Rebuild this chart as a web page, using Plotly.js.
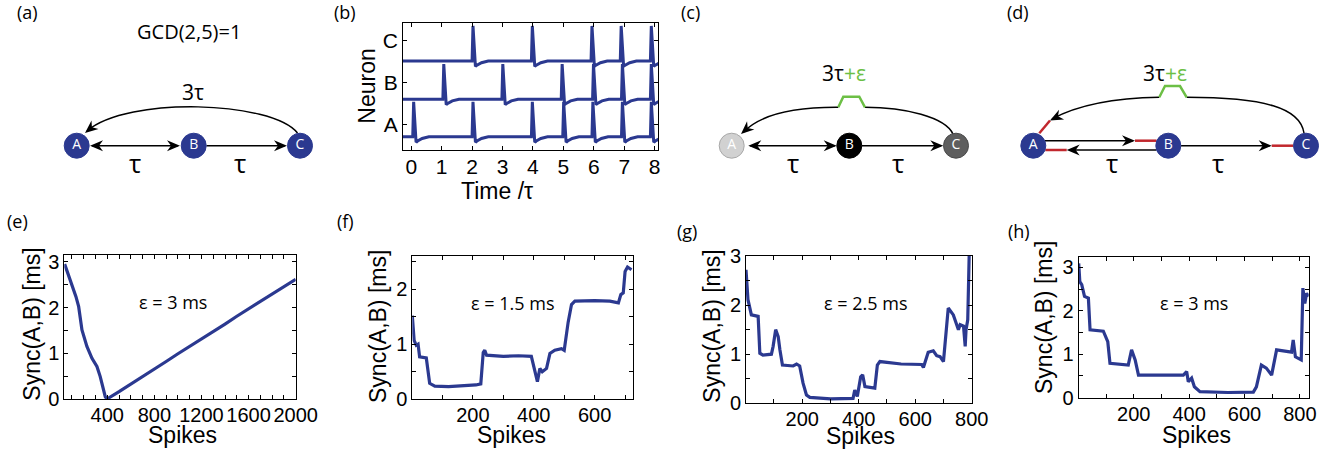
<!DOCTYPE html>
<html><head><meta charset="utf-8">
<script src="https://cdn.plot.ly/plotly-3.0.1.min.js"></script>
<style>html,body{margin:0;padding:0;background:#fff;}#chart{width:1336px;height:452px;}</style>
</head><body><div id="chart"></div>
<script>
const W = 1336, H = 452;
const NAVY = '#2b3990', GREEN = '#6cbf45', RED = '#c1272d';

// ---------- panel (b): spike raster ----------
const neuronLabels = ['A', 'B', 'C'];
const neuronTicks = [1, 2, 3];
const spikesA = [0.08, 2.03, 3.98, 5.01, 5.97, 6.94, 7.89];
const spikesB = [1.07, 3.01, 4.96, 5.99, 6.94, 7.89];
const spikesC = [2.03, 3.98, 5.94, 6.90, 7.89];
const baseLevels = [0.705, 1.606, 2.52];
// spike waveform (offset in tau, offset in level)
const spikeDt = [-0.03, 0.0, 0.08, 0.13, 0.28, 0.5];
const spikeDv = [0.0, 0.84, -0.13, -0.10, -0.04, 0.0];

// ---------- panels (e)-(h): Sync(A,B) ----------
const eX = [38, 86, 134, 157, 185, 227, 270, 312, 340, 383, 397, 500, 600, 700, 800, 900, 1000, 1100, 1200, 1300, 1400, 1500, 1600, 1700, 1800, 1900, 2000];
const eY = [2.95, 2.61, 2.24, 2.02, 1.51, 1.15, 0.89, 0.71, 0.49, 0.05, 0.0, 0.16, 0.33, 0.49, 0.66, 0.82, 0.99, 1.15, 1.32, 1.49, 1.64, 1.81, 1.97, 2.14, 2.30, 2.47, 2.62];

const fX = [1, 7, 14, 20, 25, 47, 58, 75, 120, 170, 210, 226, 234, 239, 245, 300, 350, 392, 403, 412, 420, 428, 442, 453, 469, 491, 500, 508, 513, 524, 535, 600, 650, 678, 686, 694, 700, 708, 721];
const fY = [1.52, 1.07, 0.98, 1.0, 0.77, 0.75, 0.29, 0.24, 0.23, 0.24, 0.26, 0.28, 0.85, 0.89, 0.80, 0.78, 0.79, 0.78, 0.53, 0.32, 0.56, 0.50, 0.56, 0.83, 0.89, 0.92, 0.89, 1.25, 1.40, 1.72, 1.78, 1.79, 1.78, 1.75, 1.90, 1.93, 2.32, 2.40, 2.35];

const gX = [1, 8, 20, 44, 50, 61, 91, 97, 106, 115, 121, 130, 168, 180, 191, 203, 215, 227, 300, 380, 386, 395, 407, 414, 422, 457, 466, 475, 550, 623, 629, 646, 664, 676, 688, 700, 717, 735, 753, 759, 771, 777, 780, 786, 791, 795];
const gY = [2.72, 2.11, 1.80, 1.77, 1.02, 0.98, 1.0, 1.16, 1.5, 1.36, 1.09, 0.78, 0.76, 0.80, 0.76, 0.41, 0.17, 0.12, 0.09, 0.10, 0.27, 0.14, 0.54, 0.58, 0.34, 0.31, 0.78, 0.85, 0.80, 0.79, 0.73, 1.04, 1.07, 0.97, 0.95, 0.85, 1.94, 1.80, 1.50, 1.60, 1.57, 1.16, 1.50, 1.70, 3.0, 3.5];

const hX = [1, 5, 12, 22, 36, 42, 90, 96, 106, 114, 180, 192, 205, 217, 300, 379, 391, 397, 409, 419, 439, 540, 632, 643, 661, 679, 698, 716, 770, 776, 784, 799, 805, 811, 818, 824, 832];
const hY = [3.09, 2.67, 2.60, 2.33, 2.29, 1.56, 1.53, 1.44, 1.29, 0.79, 0.75, 1.10, 0.87, 0.52, 0.52, 0.52, 0.60, 0.37, 0.45, 0.25, 0.14, 0.12, 0.13, 0.25, 0.75, 0.68, 0.52, 1.10, 1.05, 1.33, 0.94, 0.90, 0.87, 2.52, 2.17, 2.40, 2.33];

const epsLabels = ['ε = 3 ms', 'ε = 1.5 ms', 'ε = 2.5 ms', 'ε = 3 ms'];

// ---------- diagram nodes (panel-pixel layout) ----------
const nodeX = [76.7, 193.7, 300, 731.7, 849.3, 956, 1033.3, 1168.3, 1306];
const nodeY = [145.7, 145.7, 145.7, 145.7, 145.7, 145.7, 145.7, 145.7, 145.7];
const nodeText = ['A', 'B', 'C', 'A', 'B', 'C', 'A', 'B', 'C'];
const nodeFill = [NAVY, NAVY, NAVY, '#d1d1d1', '#000000', '#5e5e5e', NAVY, NAVY, NAVY];
const nodeEdge = [NAVY, NAVY, NAVY, '#a8a8a8', '#000000', '#4a4a4a', NAVY, NAVY, NAVY];

// ---------- helpers ----------
const px = v => v / W, py = v => 1 - v / H;
function spikeTrain(times, base) {
  const x = [-0.5], y = [base];
  times.forEach(t => spikeDt.forEach((d, i) => { x.push(t + d); y.push(base + spikeDv[i]); }));
  x.push(8.5); y.push(base);
  return {x, y};
}
const traces = [];
[spikesA, spikesB, spikesC].forEach((s, i) => {
  const tr = spikeTrain(s, baseLevels[i]);
  traces.push({x: tr.x, y: tr.y, xaxis: 'x', yaxis: 'y', mode: 'lines', line: {color: NAVY, width: 3}, hoverinfo: 'skip', showlegend: false});
});
[[eX, eY, 'x2', 'y2'], [fX, fY, 'x3', 'y3'], [gX, gY, 'x4', 'y4'], [hX, hY, 'x5', 'y5']].forEach(([x, y, xa, ya]) => {
  traces.push({x, y, xaxis: xa, yaxis: ya, mode: 'lines', line: {color: NAVY, width: 3.2}, hoverinfo: 'skip', showlegend: false});
});
traces.push({x: nodeX, y: nodeY, text: nodeText, xaxis: 'x6', yaxis: 'y6', mode: 'markers+text',
  marker: {size: 25, color: nodeFill, line: {color: nodeEdge, width: 1}},
  textposition: 'middle center', textfont: {family: 'Open Sans', size: 14, color: '#fff'},
  hoverinfo: 'skip', showlegend: false});

const tickFont = {family: 'Liberation Sans, Arial', size: 20, color: '#000'};
function ax(o) {
  return Object.assign({showline: true, linecolor: '#000', linewidth: 1, mirror: 'allticks', ticks: 'inside',
    ticklen: 4, tickwidth: 1, tickcolor: '#000', showgrid: false, zeroline: false, tickfont: tickFont, fixedrange: true}, o);
}
function minor(d) { return {ticks: 'inside', dtick: d, ticklen: 4, tickcolor: '#000', showgrid: false}; }
function dom(a, b, isY) { return isY ? [py(b), py(a)] : [px(a), px(b)]; }

const shapes = [];
const S = (o) => shapes.push(Object.assign({xref: 'x6', yref: 'y6', layer: 'below'}, o));
function line(x0, y0, x1, y1, color, w) { S({type: 'line', x0, y0, x1, y1, line: {color: color || '#000', width: w || 1.5}}); }
function path(d, color, w) { S({type: 'path', path: d, line: {color: color || '#000', width: w || 1.5}}); }
function head(tx, ty, ux, uy) {
  const n = Math.hypot(ux, uy); ux /= n; uy /= n;
  const L = 13, hw = 5.5, notch = 4;
  const bx = tx - L * ux, by = ty - L * uy, qx = -uy, qy = ux;
  const nx = tx - (L - notch) * ux, ny = ty - (L - notch) * uy;
  S({type: 'path', layer: 'above', path: `M${tx},${ty} L${bx + hw * qx},${by + hw * qy} L${nx},${ny} L${bx - hw * qx},${by - hw * qy} Z`,
     fillcolor: '#000', line: {width: 0}});
}

// (a)
line(92, 145.7, 178, 145.7); head(90, 145.7, -1, 0); head(180, 145.7, 1, 0);
line(206.4, 145.7, 285, 145.7); head(287, 145.7, 1, 0);
path('M297.5,133 C272,101 128,96 87,131'); head(85, 133, -0.77, 0.64);
// (c)
line(750, 145.7, 835, 145.7); head(748.3, 145.7, -1, 0); head(836.7, 145.7, 1, 0);
line(862, 145.7, 941, 145.7); head(943.3, 145.7, 1, 0);
path('M953,134 C945,117 905,107.3 865,107.3');
path('M838.3,107.3 C792,107 760,115 743.5,132');
path('M838.3,107.3 L843.3,96.7 L859.3,96.7 L865,107.3', GREEN, 2.5);
head(741, 134, -0.747, 0.664);
// (d)
line(1045, 140.7, 1133, 140.7); head(1135, 140.7, 1, 0); line(1135, 140.7, 1156.6, 140.7, RED, 2.5);
line(1156.3, 150, 1069, 150); head(1066.7, 150, -1, 0); line(1066.7, 150, 1045.3, 150, RED, 2.5);
line(1181, 145.7, 1270, 145.7); head(1271.7, 145.7, 1, 0); line(1271.7, 145.7, 1293.3, 145.7, RED, 2.5);
path('M1304,133 C1300,108 1265,97.3 1186.7,97.3');
path('M1159.3,97.3 C1112,98 1076,106 1052,119');
path('M1159.3,97.3 L1165,86 L1180,86 L1186.7,97.3', GREEN, 2.5);
head(1050, 120.5, -0.89, 0.46);
line(1050, 120.5, 1039.3, 133.3, RED, 2.5);

// annotations
const ann = [];
function T(text, x, y, size, o) {
  ann.push(Object.assign({text, xref: 'paper', yref: 'paper', x: px(x), y: py(y), xanchor: 'center', yanchor: 'middle',
    showarrow: false, font: {family: 'Open Sans', size, color: '#000'}}, o || {}));
}
const panelLetters = ['(a)', '(b)', '(c)', '(d)', '(e)', '(f)', '(g)', '(h)'];
[[27.5, 11.7], [345, 11.7], [690, 11.7], [1018, 11.7], [17.5, 220.7], [345, 220.7], [687.5, 230.8], [1019, 230.8]]
  .forEach((p, i) => T(panelLetters[i], p[0], p[1], 18));
T('GCD(2,5)=1', 189, 31.7, 20);
T('3τ', 193, 91.7, 21);
T('τ', 135, 163, 26); T('τ', 240, 163, 26);
T('3τ<span style="color:' + GREEN + '">+ε</span>', 844, 72.5, 21);
T('τ', 793.3, 163, 26); T('τ', 898.3, 163, 26);
T('3τ<span style="color:' + GREEN + '">+ε</span>', 1165, 73, 21);
T('τ', 1111.7, 163, 26); T('τ', 1218.3, 163, 26);
[[172.5, 301.7], [512.5, 303], [865, 303], [1194, 303]].forEach((p, i) => T(epsLabels[i], p[0], p[1], 18));
const AF = {family: 'Liberation Sans, Arial', size: 23, color: '#000'};
T('Neuron', 367, 86.7, 23, {textangle: -90, font: AF});
T('Time /τ', 497, 190.5, 23, {font: AF});
[[182.5, 435], [511.7, 435], [860, 435.5], [1196, 435]].forEach(p => T('Spikes', p[0], p[1], 23, {font: AF}));
[[31.7, 324], [378, 327], [711.7, 326], [1044, 318]].forEach(p => T('Sync(A,B) [ms]', p[0], p[1], 23, {textangle: -90, font: AF}));

const XS = -2;
const layout = {
  width: W, height: H, margin: {l: 0, r: 0, t: 0, b: 0}, paper_bgcolor: '#fff', plot_bgcolor: 'rgba(0,0,0,0)',
  showlegend: false,
  xaxis: ax({domain: dom(403, 658), anchor: 'y', range: [-0.27, 8.11], dtick: 1, tick0: 0, ticklabelstandoff: XS, tickfont: Object.assign({}, tickFont, {size: 21})}),
  yaxis: ax({domain: dom(23, 150, true), anchor: 'x', range: [0.39, 3.43], tickvals: neuronTicks, ticktext: neuronLabels, tickfont: Object.assign({}, tickFont, {size: 21})}),
  xaxis2: ax({domain: dom(64.3, 295.7), anchor: 'y2', range: [35, 2000], dtick: 400, tick0: 0, minor: minor(100), ticklabelstandoff: XS}),
  yaxis2: ax({domain: dom(255, 399, true), anchor: 'x2', range: [0, 3.15], dtick: 1, tick0: 0, minor: minor(0.5)}),
  xaxis3: ax({domain: dom(412.3, 632.7), anchor: 'y3', range: [1, 725], dtick: 200, tick0: 0, minor: minor(100), ticklabelstandoff: XS}),
  yaxis3: ax({domain: dom(256, 399.3, true), anchor: 'x3', range: [0, 2.6], dtick: 1, tick0: 0, minor: minor(0.5)}),
  xaxis4: ax({domain: dom(746, 971.7), anchor: 'y4', range: [1, 800], dtick: 200, tick0: 0, minor: minor(100), ticklabelstandoff: XS}),
  yaxis4: ax({domain: dom(256, 403.3, true), anchor: 'x4', range: [0, 3], dtick: 1, tick0: 0, minor: minor(0.5)}),
  xaxis5: ax({domain: dom(1078.7, 1308.7), anchor: 'y5', range: [1, 832], dtick: 200, tick0: 0, minor: minor(100), ticklabelstandoff: XS}),
  yaxis5: ax({domain: dom(257.3, 397.7, true), anchor: 'x5', range: [0, 3.23], dtick: 1, tick0: 0, minor: minor(0.5)}),
  xaxis6: {domain: [0, 1], anchor: 'y6', range: [0, W], visible: false, fixedrange: true},
  yaxis6: {domain: [0, 1], anchor: 'x6', range: [H, 0], visible: false, fixedrange: true},
  shapes, annotations: ann
};
Plotly.newPlot('chart', traces, layout, {staticPlot: true, displayModeBar: false});
</script></body></html>
